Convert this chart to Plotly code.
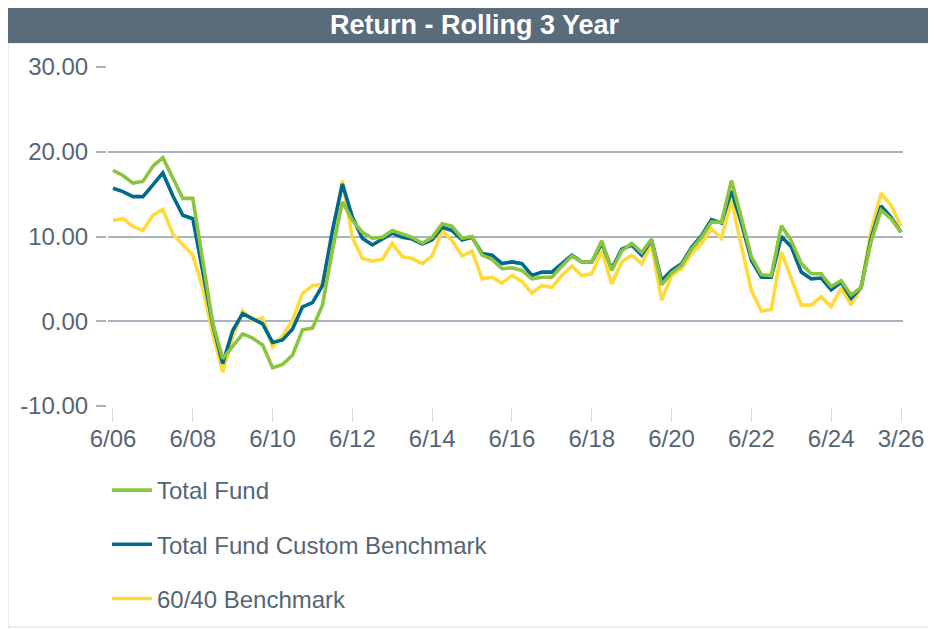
import plotly.graph_objects as go

# Quarter-end periods from 6/06 through 3/26
periods = []
for yr in range(2006, 2027):
    for m in (3, 6, 9, 12):
        if (yr == 2006 and m < 6) or (yr == 2026 and m > 3):
            continue
        periods.append(f"{m}/{yr % 100:02d}")

tick_labels = ["6/06", "6/08", "6/10", "6/12", "6/14", "6/16", "6/18", "6/20", "6/22", "6/24", "3/26"]
y_tick_values = [-10, 0, 10, 20, 30]
y_tick_labels = ["-10.00", "0.00", "10.00", "20.00", "30.00"]

total_fund = [
    17.8, 17.2, 16.3, 16.5, 18.3, 19.3, 16.9, 14.5, 14.5, 7.2,
    -0.2, -4.4, -3.0, -1.5, -2.0, -2.8, -5.5, -5.1, -4.0, -1.0,
    -0.8, 1.9, 8.4, 14.1, 11.9, 10.5, 9.8, 9.9, 10.7, 10.3,
    9.9, 9.2, 9.9, 11.5, 11.2, 9.8, 10.0, 7.8, 7.3, 6.2,
    6.3, 6.0, 5.0, 5.2, 5.2, 6.5, 7.7, 7.0, 7.0, 9.5,
    6.0, 8.3, 9.2, 8.1, 9.7, 4.3, 5.7, 6.6, 8.5, 9.9,
    11.7, 11.7, 16.6, 12.2, 7.6, 5.5, 5.4, 11.3, 9.5, 6.8,
    5.6, 5.6, 4.1, 4.8, 3.1, 4.0, 9.4, 13.1, 12.1, 10.5,
]

custom_benchmark = [
    15.7, 15.3, 14.7, 14.7, 16.1, 17.5, 14.8, 12.5, 12.1, 5.8,
    -0.4, -5.0, -1.1, 0.9, 0.3, -0.3, -2.5, -2.2, -0.9, 1.7,
    2.2, 4.2, 10.7, 16.2, 12.3, 9.8, 9.0, 9.7, 10.4, 9.9,
    9.7, 9.1, 9.6, 11.1, 10.7, 9.6, 9.9, 8.0, 7.8, 6.8,
    7.0, 6.8, 5.4, 5.8, 5.8, 6.8, 7.8, 7.0, 7.0, 9.2,
    6.2, 8.5, 9.0, 7.8, 9.6, 4.8, 6.0, 6.8, 8.7, 10.1,
    12.0, 11.6, 15.4, 11.6, 7.2, 5.2, 5.2, 10.0, 8.8, 5.8,
    5.0, 5.1, 3.7, 4.6, 2.7, 4.0, 9.8, 13.6, 12.3, 10.5,
]

benchmark_6040 = [
    11.9, 12.1, 11.2, 10.7, 12.5, 13.2, 10.3, 9.0, 7.8, 3.9,
    -1.5, -6.0, -1.8, 1.2, 0.1, 0.4, -3.0, -1.7, 0.1, 3.3,
    4.2, 4.4, 9.9, 16.6, 9.9, 7.4, 7.1, 7.3, 9.2, 7.6,
    7.4, 6.8, 7.7, 10.7, 9.5, 7.7, 8.3, 5.0, 5.2, 4.5,
    5.4, 4.7, 3.3, 4.2, 4.0, 5.4, 6.5, 5.4, 5.6, 8.3,
    4.4, 7.0, 7.8, 6.8, 9.0, 2.5, 5.4, 6.2, 8.0, 9.2,
    10.9, 9.8, 14.3, 8.9, 3.6, 1.2, 1.4, 8.2, 5.0, 1.9,
    1.9, 2.9, 1.7, 3.9, 1.9, 4.0, 10.7, 15.1, 13.7, 11.2,
]

# The page body has an 8px margin; size the figure so it ends at the window edge
OX, OY = 8, 8
FW, FH = 936 - OX, 629 - OY


def px(x):
    return min(max((x - OX) / FW, 0.0), 1.0)


def py(y):
    return min(max(1 - (y - OY) / FH, 0.0), 1.0)


GRID = "#A9B3BF"
TEXT = "#566575"
FS = 24

fig = go.Figure()
series = [
    ("Total Fund", total_fund, "#8CC43F", 3),
    ("Total Fund Custom Benchmark", custom_benchmark, "#006A8E", 2),
    ("60/40 Benchmark", benchmark_6040, "#FFDA3A", 1),
]
for i, (name, vals, col, z) in enumerate(series):
    fig.add_trace(go.Scatter(
        x=periods, y=vals, name=name, mode="lines",
        line=dict(color=col, width=3.6),
        zorder=z, legendgroup=f"g{i}",
        hoverinfo="skip",
    ))

fig.update_layout(
    width=FW, height=FH,
    margin=dict(l=0, r=0, t=0, b=0, autoexpand=False),
    paper_bgcolor="white", plot_bgcolor="white",
    font=dict(family="Liberation Sans, Arial, sans-serif", color=TEXT, size=FS),
    showlegend=True,
    legend=dict(
        x=px(107), xanchor="left", y=py(468), yanchor="top",
        orientation="v", tracegroupgap=20, itemwidth=40,
        font=dict(size=FS, color=TEXT),
        bgcolor="rgba(0,0,0,0)",
    ),
    xaxis=dict(
        domain=[px(108), px(903)],
        type="category",
        range=[-0.5, 79.2],
        tickmode="array", tickvals=tick_labels, ticktext=tick_labels,
        showgrid=False, zeroline=False,
        showline=True, linecolor=GRID, linewidth=2,
        ticks="outside", ticklen=14, tickcolor="#D3D9E0", tickwidth=1,
        ticklabelstandoff=-4,
        tickfont=dict(size=FS, color=TEXT),
        anchor="y", automargin=False,
    ),
    yaxis=dict(
        domain=[py(406), py(67)],
        range=[-10, 30],
        tickmode="array", tickvals=y_tick_values, ticktext=y_tick_labels,
        showgrid=True, gridcolor=GRID, gridwidth=2,
        zeroline=False,
        showline=True, linecolor=GRID, linewidth=2,
        ticks="outside", ticklen=10, tickcolor=GRID, tickwidth=2,
        ticklabelstandoff=3,
        tickfont=dict(size=FS, color=TEXT),
        anchor="x", automargin=False,
    ),
    shapes=[
        dict(type="rect", xref="paper", yref="paper",
             x0=px(8), x1=px(933), y0=py(627), y1=py(43),
             line=dict(color="#D8D8D8", width=1), fillcolor="rgba(0,0,0,0)", layer="below"),
        dict(type="rect", xref="paper", yref="paper",
             x0=0, x1=1, y0=py(43), y1=1,
             line=dict(width=0), fillcolor="#5A6B7C", layer="below"),
    ],
    annotations=[
        dict(text="<b>Return - Rolling 3 Year</b>", xref="paper", yref="paper",
             x=px(475), y=py(25), xanchor="center", yanchor="middle",
             showarrow=False, font=dict(size=27, color="white")),
    ],
)

fig.write_html("out.html")
